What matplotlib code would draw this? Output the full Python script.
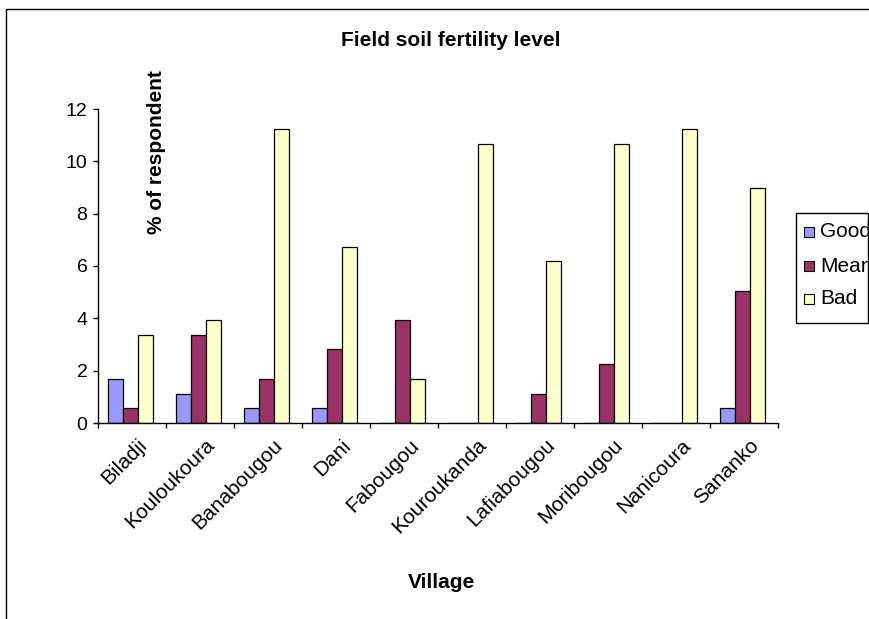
import matplotlib
matplotlib.use('Agg')
import matplotlib.pyplot as plt
from matplotlib.patches import Rectangle
from matplotlib.transforms import ScaledTranslation
import numpy as np

villages = ['Biladji', 'Kouloukoura', 'Banabougou', 'Dani', 'Fabougou',
            'Kouroukanda', 'Lafiabougou', 'Moribougou', 'Nanicoura', 'Sananko']
good = [1.69, 1.12, 0.56, 0.56, 0, 0, 0, 0, 0, 0.56]
mean = [0.56, 3.37, 1.69, 2.81, 3.93, 0, 1.12, 2.25, 0, 5.06]
bad = [3.37, 3.93, 11.24, 6.74, 1.69, 10.67, 6.18, 10.67, 11.24, 8.99]

series = ['Good', 'Mean', 'Bad']
colores = ['#9999FF', '#993366', '#FFFFCC']

plt.rcParams['font.family'] = ['Liberation Sans', 'DejaVu Sans']

W, H = 870, 619
fig = plt.figure(figsize=(W / 100, H / 100), dpi=100)

def px(x, y):
    # pixel position (from top-left) to figure fraction
    return x / W, 1 - y / H

# marco exterior del gráfico
fig.patches.append(Rectangle(px(6, 700), 2, (700 - 9) / H, transform=fig.transFigure,
                             fill=False, edgecolor='#000000', linewidth=1.0))

ax = fig.add_axes([98 / W, 1 - 423 / H, 680 / W, 314 / H])
x = np.arange(len(villages))
ancho = 0.22
for k, (vals, color, nombre) in enumerate(zip([good, mean, bad], colores, series)):
    ax.bar(x + (k - 1) * ancho - 0.02, vals, width=ancho, color=color,
           edgecolor='#000000', linewidth=0.9, label=nombre)

ax.set_xlim(-0.5, len(villages) - 0.5)
ax.set_ylim(0, 12)
ax.set_yticks(range(0, 13, 2))
ax.set_xticks(x)
ax.set_xticks(np.arange(-0.5, len(villages)), minor=True)
ax.set_xticklabels(villages, rotation=45, ha='right', va='top', rotation_mode='anchor')
ax.tick_params(axis='x', which='major', length=0, pad=9, labelsize=15)
ax.tick_params(axis='x', which='minor', length=3.6, width=1, direction='out')
ax.tick_params(axis='y', length=3.6, width=1, direction='out', pad=4, labelsize=14)
for lbl in ax.get_xticklabels():
    lbl.set_transform(lbl.get_transform() + ScaledTranslation(0.05, 0, fig.dpi_scale_trans))

ax.spines['top'].set_visible(False)
ax.spines['right'].set_visible(False)
ax.spines['left'].set_linewidth(1)
ax.spines['bottom'].set_linewidth(1)
ax.patch.set_visible(False)

fig.text(*px(451, 40), 'Field soil fertility level', ha='center', va='center',
         fontsize=15, fontweight='bold')
fig.text(*px(441, 583), 'Village', ha='center', va='center',
         fontsize=15, fontweight='bold')
fig.text(*px(157, 152), '% of respondent', ha='center', va='center',
         rotation=90, fontsize=15, fontweight='bold')

# leyenda dibujada a mano, con el texto recortado por el borde de la caja
x0, y0 = px(796, 323)
x1, y1 = px(868, 213)
caja = Rectangle((x0, y0), x1 - x0, y1 - y0, transform=fig.transFigure,
                 facecolor='white', edgecolor='#000000', linewidth=1.0)
fig.patches.append(caja)
for nombre, color, yy in zip(series, colores, [232, 266, 299]):
    sx, sy = px(804, yy + 5)
    fig.patches.append(Rectangle((sx, sy), 10 / W, 10 / H, transform=fig.transFigure,
                                 facecolor=color, edgecolor='#000000', linewidth=0.8))
    t = fig.text(*px(820, yy), nombre, ha='left', va='center', fontsize=15)
    t.set_clip_path(caja)

fig.savefig('out.png', dpi=100)
